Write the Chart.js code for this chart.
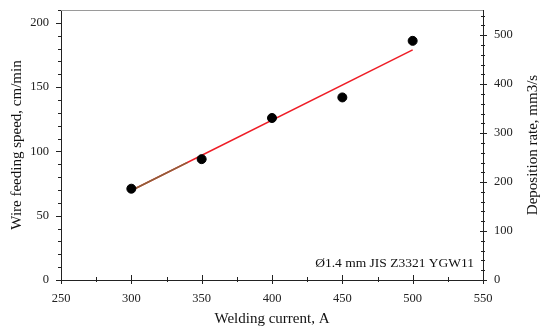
<!DOCTYPE html>
<html>
<head>
<meta charset="utf-8">
<script src="https://cdn.jsdelivr.net/npm/chart.js@4"></script>
<style>
  html, body { margin: 0; padding: 0; background: #fff; }
  #wrap { width: 550px; height: 331px; position: relative; }
</style>
</head>
<body>
<div id="wrap"><canvas id="c" width="550" height="331"></canvas></div>
<script>
// ---- data ----
const weldingCurrent = [300, 350, 400, 450, 500];
const wireSpeed = [71, 94, 126, 142, 186];
const fitX = [300, 500];
const fitY = [69.6, 179];
const fitStartX = [300, 340];
const fitStartY = [69.6, 91.5];
const xTicks = [250, 300, 350, 400, 450, 500, 550];
const yTicks = [0, 50, 100, 150, 200];
const y2Ticks = [0, 100, 200, 300, 400, 500];
const xTitle = 'Welding current, A';
const yTitle = 'Wire feeding speed, cm/min';
const y2Title = 'Deposition rate, mm3/s';
const note = 'Ø1.4 mm JIS Z3321 YGW11';

const FONT = '"Liberation Serif", "DejaVu Serif", serif';
const AXC = '#222';

const toXY = (xs, ys) => xs.map((x, i) => ({x, y: ys[i]}));

const decor = {
  id: 'decor',
  afterDraw(chart) {
    const ctx = chart.ctx;
    const a = chart.chartArea;
    const sx = chart.scales.x, sy = chart.scales.y, sy2 = chart.scales.y2;
    ctx.save();
    // top border
    ctx.strokeStyle = '#9a9a9a';
    ctx.lineWidth = 1;
    ctx.beginPath();
    ctx.moveTo(a.left, a.top + 0.5); ctx.lineTo(a.right, a.top + 0.5);
    ctx.stroke();
    ctx.strokeStyle = AXC;
    ctx.beginPath();
    // x ticks (major every 50, minor every 25)
    for (let v = 250; v <= 550; v += 25) {
      const px = Math.round(sx.getPixelForValue(v)) + 0.5;
      const major = v % 50 === 0;
      ctx.moveTo(px, a.bottom - (major ? 5 : 3));
      ctx.lineTo(px, a.bottom + (major ? 4 : 2));
    }
    // left y ticks (major 50, minor 10)
    for (let v = 0; v <= 210; v += 10) {
      const py = Math.round(sy.getPixelForValue(v)) + 0.5;
      const major = v % 50 === 0;
      ctx.moveTo(a.left - (major ? 5 : 3), py);
      ctx.lineTo(a.left, py);
    }
    // right y ticks (major 100, minor 20)
    for (let v = 0; v <= 540; v += 20) {
      const py = Math.round(sy2.getPixelForValue(v)) + 0.5;
      const major = v % 100 === 0;
      ctx.moveTo(a.right - (major ? 3 : 2), py);
      ctx.lineTo(a.right + (major ? 4 : 2), py);
    }
    ctx.stroke();
    // titles
    ctx.fillStyle = '#111';
    ctx.font = '15px ' + FONT;
    ctx.textAlign = 'center';
    ctx.textBaseline = 'middle';
    ctx.fillText(xTitle, (a.left + a.right) / 2, 319);
    ctx.save();
    ctx.translate(17, (a.top + a.bottom) / 2);
    ctx.rotate(-Math.PI / 2);
    ctx.fillText(yTitle, 0, 0);
    ctx.restore();
    ctx.save();
    ctx.translate(533, (a.top + a.bottom) / 2);
    ctx.rotate(-Math.PI / 2);
    ctx.fillText(y2Title, 0, 0);
    ctx.restore();
    // annotation
    ctx.font = '13.5px ' + FONT;
    ctx.textAlign = 'right';
    ctx.fillText(note, 474, 263);
    ctx.restore();
  }
};

const noPad = s => { s.paddingTop = 0; s.paddingBottom = 0; s.paddingLeft = 0; s.paddingRight = 0; };

new Chart(document.getElementById('c'), {
  type: 'scatter',
  data: {
    datasets: [
      {
        type: 'line',
        data: toXY(fitX, fitY),
        borderColor: '#ee1c25',
        borderWidth: 1.5,
        pointRadius: 0,
        fill: false,
        order: 3
      },
      {
        type: 'line',
        data: toXY(fitStartX, fitStartY),
        borderColor: '#8c6239',
        borderWidth: 1.5,
        pointRadius: 0,
        fill: false,
        order: 2
      },
      {
        data: toXY(weldingCurrent, wireSpeed),
        backgroundColor: '#000',
        borderColor: '#000',
        pointRadius: 4.5,
        pointHoverRadius: 4.5,
        order: 1
      }
    ]
  },
  options: {
    responsive: false,
    animation: false,
    events: [],
    layout: { padding: { top: 10, left: 0, right: 0, bottom: 0 } },
    plugins: { legend: { display: false }, tooltip: { enabled: false } },
    scales: {
      x: {
        type: 'linear', min: 250, max: 550,
        afterBuildTicks: s => { s.ticks = xTicks.map(v => ({value: v})); },
        afterFit: s => { s.height = 51; noPad(s); },
        grid: { display: false, drawTicks: false },
        border: { display: true, color: AXC, width: 1 },
        ticks: { padding: 11, color: '#222', font: { family: FONT, size: 12.5 }, maxRotation: 0 }
      },
      y: {
        type: 'linear', position: 'left', min: 0, max: 210,
        afterBuildTicks: s => { s.ticks = yTicks.map(v => ({value: v})); },
        afterFit: s => { s.width = 61; noPad(s); },
        grid: { display: false, drawTicks: false },
        border: { display: true, color: AXC, width: 1 },
        ticks: { padding: 12, color: '#222', font: { family: FONT, size: 12.5 } }
      },
      y2: {
        type: 'linear', position: 'right', min: 0, max: 551.5,
        afterBuildTicks: s => { s.ticks = y2Ticks.map(v => ({value: v})); },
        afterFit: s => { s.width = 67; noPad(s); },
        grid: { display: false, drawTicks: false },
        border: { display: true, color: AXC, width: 1 },
        ticks: { padding: 11, color: '#222', font: { family: FONT, size: 12.5 } }
      }
    }
  },
  plugins: [decor]
});
</script>
</body>
</html>
